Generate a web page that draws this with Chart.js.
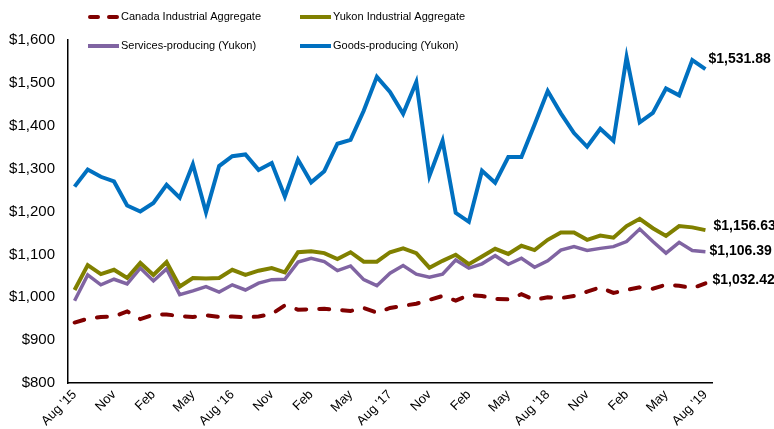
<!DOCTYPE html>
<html>
<head>
<meta charset="utf-8">
<script src="https://cdn.jsdelivr.net/npm/chart.js@4"></script>
<style>
  html, body { margin: 0; padding: 0; background: #fff; }
  #wrap { width: 774px; height: 429px; position: relative; }
</style>
</head>
<body>
<div id="wrap"><canvas id="myChart"></canvas></div>
<script>
// monthly, Aug 2015 .. Aug 2019
const months = ["Aug '15", "Sep", "Oct", "Nov", "Dec", "Jan", "Feb", "Mar", "Apr", "May", "Jun", "Jul",
  "Aug '16", "Sep", "Oct", "Nov", "Dec", "Jan", "Feb", "Mar", "Apr", "May", "Jun", "Jul",
  "Aug '17", "Sep", "Oct", "Nov", "Dec", "Jan", "Feb", "Mar", "Apr", "May", "Jun", "Jul",
  "Aug '18", "Sep", "Oct", "Nov", "Dec", "Jan", "Feb", "Mar", "Apr", "May", "Jun", "Jul",
  "Aug '19"];

const canada = [941, 950, 954, 955, 967, 949, 959, 960, 956, 954, 958, 954, 955, 953, 955, 961,
  981, 971, 972, 973, 971, 968, 975, 964, 975, 980, 985, 994, 1003, 992, 1005, 1003,
  996, 995, 1007, 994, 1000, 998, 1003, 1013, 1023, 1010, 1017, 1023, 1020, 1029, 1027, 1021, 1032.42];

const yukon = [1017, 1075, 1054, 1064, 1045, 1080, 1052, 1082, 1025, 1045, 1044, 1045, 1064, 1052, 1062, 1068, 1058,
  1105, 1107, 1103, 1089, 1105, 1083, 1083, 1105, 1114, 1103, 1069, 1085, 1099, 1077, 1095, 1113, 1101,
  1120, 1110, 1134, 1151, 1151, 1134, 1144, 1139, 1166, 1183, 1161, 1143, 1166, 1163, 1156.63];

const services = [992, 1052, 1029, 1042, 1031, 1068, 1038, 1066, 1006, 1015, 1025, 1012, 1029, 1017, 1033, 1041, 1042,
  1082, 1091, 1083, 1062, 1073, 1041, 1027, 1056, 1074, 1054, 1047, 1054, 1087, 1068, 1078, 1097, 1077,
  1091, 1070, 1085, 1110, 1118, 1109, 1114, 1118, 1130, 1159, 1130, 1103, 1128, 1109, 1106.39];

const goods = [1258, 1298, 1281, 1270, 1214, 1200, 1220, 1262, 1232, 1310, 1198, 1306, 1329, 1333, 1297, 1313, 1235,
  1321, 1268, 1294, 1358, 1367, 1435, 1514, 1479, 1428, 1502, 1283, 1365, 1197, 1176, 1295, 1267,
  1327, 1327, 1403, 1481, 1429, 1383, 1351, 1393, 1365, 1560, 1408, 1430, 1487, 1471, 1553, 1531.88];

const seriesNames = ["Canada Industrial Aggregate", "Yukon Industrial Aggregate",
  "Services-producing (Yukon)", "Goods-producing (Yukon)"];

const FONT = '"Liberation Sans", Arial, sans-serif';

function money(v, dec) {
  return '$' + v.toLocaleString('en-US', { minimumFractionDigits: dec, maximumFractionDigits: dec });
}

// legend drawn by hand so it can sit over the top of the plot
const legendPos = [[88, 17], [300, 17], [88, 46], [300, 46]];
// end-of-line value labels, nudged like the original
const endNudge = [[7, -3], [8, -4], [4, 0], [3, -10]];

const overlay = {
  id: 'overlay',
  afterDraw(chart) {
    const ctx = chart.ctx;
    chart.data.datasets.forEach((ds, i) => {
      const [x, y] = legendPos[i];
      ctx.save();
      ctx.strokeStyle = ds.borderColor;
      ctx.lineWidth = 4;
      if (ds.borderDash) {
        ctx.lineCap = 'round';
        ctx.setLineDash([8, 11]);
        ctx.beginPath(); ctx.moveTo(x + 2, y); ctx.lineTo(x + 29, y); ctx.stroke();
      } else {
        ctx.beginPath(); ctx.moveTo(x, y); ctx.lineTo(x + 31, y); ctx.stroke();
      }
      ctx.setLineDash([]);
      ctx.fillStyle = '#000';
      ctx.font = '11px ' + FONT;
      ctx.textBaseline = 'middle';
      ctx.fillText(ds.label, x + 33, y);

      // value label at the last point
      const meta = chart.getDatasetMeta(i);
      const last = meta.data[meta.data.length - 1];
      const val = ds.data[ds.data.length - 1];
      ctx.font = 'bold 14px ' + FONT;
      ctx.fillText(money(val, 2), last.x + endNudge[i][0], last.y + endNudge[i][1]);
      ctx.restore();
    });
  }
};

let ctx1 = document.getElementById('myChart').getContext('2d');
let myChart = new Chart(ctx1, {
  type: 'line',
  data: {
    labels: months,
    datasets: [
      { label: seriesNames[0], data: canada, borderColor: '#800000', borderWidth: 4, borderDash: [10, 13], borderCapStyle: 'round' },
      { label: seriesNames[1], data: yukon, borderColor: '#808000', borderWidth: 4 },
      { label: seriesNames[2], data: services, borderColor: '#8064A2', borderWidth: 3.5 },
      { label: seriesNames[3], data: goods, borderColor: '#0070C0', borderWidth: 4 }
    ]
  },
  options: {
    responsive: true,
    maintainAspectRatio: false,
    animation: false,
    elements: { point: { radius: 0 }, line: { tension: 0 } },
    layout: { padding: { top: 40, right: 62, left: 0, bottom: 0 } },
    plugins: { legend: { display: false }, tooltip: { enabled: false } },
    scales: {
      x: {
        offset: true,
        grid: { display: false, drawTicks: false },
        border: { color: '#000', width: 1.5 },
        afterFit: (s) => { s.height = 46; },
        ticks: {
          autoSkip: false,
          maxRotation: 45,
          minRotation: 45,
          padding: 4,
          color: '#000',
          font: { family: FONT, size: 13 },
          callback: function (v, i) { return i % 3 === 0 ? this.getLabelForValue(v) : ''; }
        }
      },
      y: {
        min: 800,
        max: 1600,
        grid: { display: false, drawTicks: false },
        border: { color: '#000', width: 1.5 },
        afterFit: (s) => { s.width = 68; },
        ticks: {
          stepSize: 100,
          padding: 13,
          color: '#000',
          font: { family: FONT, size: 15 },
          callback: (v) => money(v, 0)
        }
      }
    }
  },
  plugins: [overlay]
});
</script>
</body>
</html>
